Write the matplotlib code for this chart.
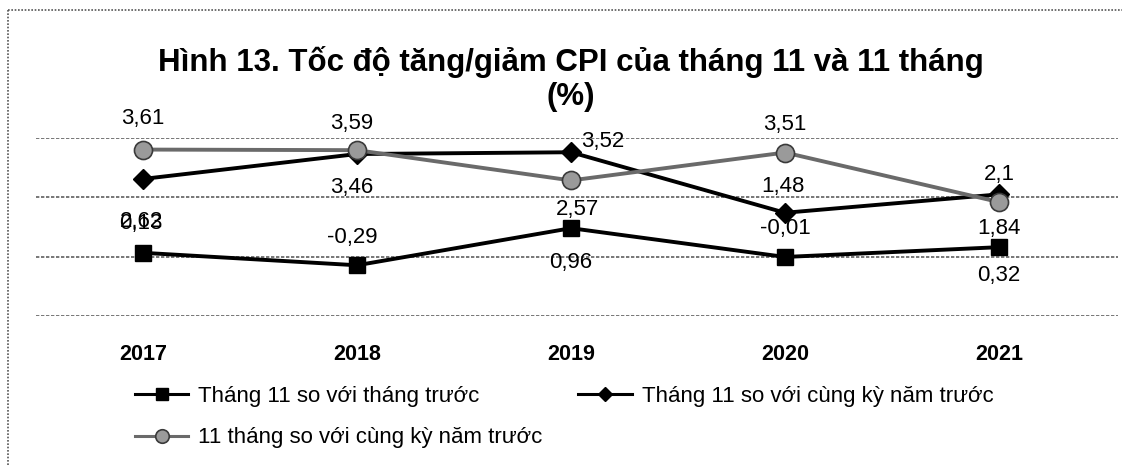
import matplotlib.pyplot as plt
from matplotlib.lines import Line2D

years = ['2017', '2018', '2019', '2020', '2021']
mom = [0.13, -0.29, 0.96, -0.01, 0.32]          # Tháng 11 so với tháng trước
yoy = [2.62, 3.46, 3.52, 1.48, 2.1]             # Tháng 11 so với cùng kỳ năm trước
ytd = [3.61, 3.59, 2.57, 3.51, 1.84]            # 11 tháng so với cùng kỳ năm trước

series_names = ['Tháng 11 so với tháng trước',
                'Tháng 11 so với cùng kỳ năm trước',
                '11 tháng so với cùng kỳ năm trước']

# label offsets in pixels (dx, dy)
mom_off = [(-2, 29), (-5, 28), (0, -34), (0, 28), (0, -28)]
yoy_off = [(-2, -43), (-5, -33), (32, 11), (-2, 26), (0, 20)]
ytd_off = [(0, 31), (-5, 27), (6, -29), (0, 28), (0, -26)]

plt.rcParams['font.family'] = ['Liberation Sans', 'DejaVu Sans']

fig = plt.figure(figsize=(11.22, 4.65), dpi=100)
ax = fig.add_axes([36 / 1122, 1 - 316 / 465, 1082 / 1122, 178 / 465])

x = list(range(len(years)))
l1, = ax.plot(x, mom, color='black', lw=2.8, marker='s', markersize=11,
              markerfacecolor='black', markeredgecolor='black', zorder=4)
l2, = ax.plot(x, yoy, color='black', lw=2.8, marker='D', markersize=10,
              markerfacecolor='black', markeredgecolor='black', zorder=3)
l3, = ax.plot(x, ytd, color='#6a6a6a', lw=2.8, marker='o', markersize=13,
              markerfacecolor='#9a9a9a', markeredgecolor='#3a3a3a', markeredgewidth=1.2, zorder=5)

for vals, offs in [(mom, mom_off), (yoy, yoy_off), (ytd, ytd_off)]:
    for i, (v, (dx, dy)) in enumerate(zip(vals, offs)):
        ax.annotate(f'{v:g}'.replace('.', ','), (i, v), xytext=(dx, dy),
                    textcoords='offset pixels', ha='center', va='center',
                    fontsize=16, color='black', zorder=6)

ax.set_xlim(-0.5, 4.556)
ax.set_ylim(-2, 4)
ax.set_yticks([-2, 0, 2, 4])
ax.yaxis.grid(True, color='#606060', linestyle=(0, (2, 1)), lw=1.2)
ax.set_axisbelow(True)
ax.tick_params(axis='y', left=False, labelleft=False)
ax.set_xticks(x)
ax.set_xticklabels(years, fontsize=15.5, fontweight='bold')
ax.tick_params(axis='x', length=0, pad=20)
for s in ax.spines.values():
    s.set_visible(False)

# title in two lines, each its own text so line 2 stays narrow
fig.text(0.509, 1 - 62 / 465, 'Hình 13. Tốc độ tăng/giảm CPI của tháng 11 và 11 tháng',
         ha='center', va='center', fontsize=22.5, fontweight='bold')
fig.text(0.509, 1 - 97 / 465, '(%)',
         ha='center', va='center', fontsize=22.5, fontweight='bold')

leg = fig.legend([l1, l3, l2], [series_names[0], series_names[2], series_names[1]],
                 ncol=2, loc='upper left', bbox_to_anchor=(115 / 1122, 1 - 366 / 465),
                 frameon=False, fontsize=16, handlelength=2.4, handletextpad=0.45,
                 columnspacing=1.6, labelspacing=0.92, markerscale=0.75)
for h in leg.legend_handles:
    h.set_linewidth(2.2)

# dotted frame of the scanned figure
fig.add_artist(Line2D([8 / 1122, 1.0], [1 - 10 / 465, 1 - 10 / 465], color='#555555',
                      lw=1.2, linestyle=(0, (1, 1)), transform=fig.transFigure))
fig.add_artist(Line2D([8 / 1122, 8 / 1122], [0.0, 1 - 10 / 465], color='#555555',
                      lw=1.2, linestyle=(0, (1, 1)), transform=fig.transFigure))

fig.savefig('out.png', dpi=100)
